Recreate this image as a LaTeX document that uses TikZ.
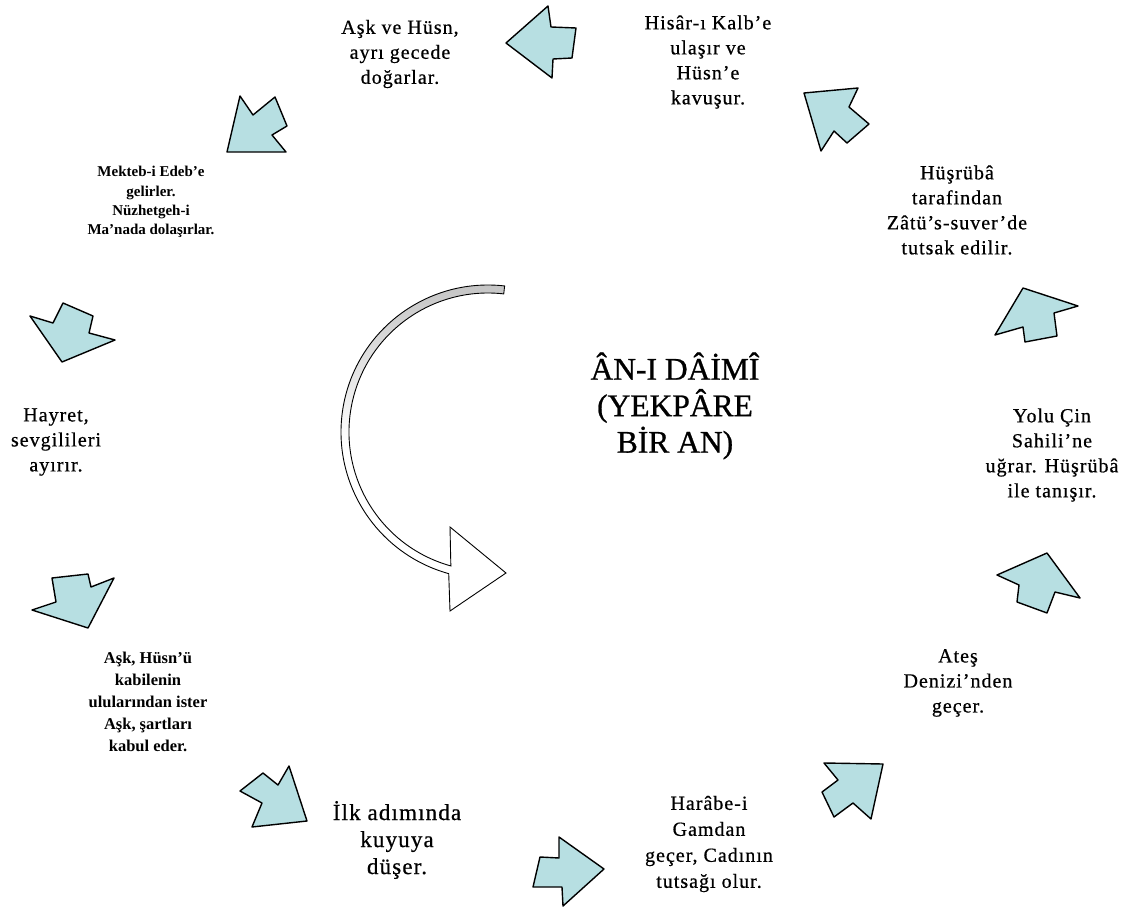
\documentclass[tikz,border=0pt]{standalone}
\usepackage{fontspec}
\setmainfont{Liberation Serif}
\newfontfamily\tnr[LetterSpace=5,FakeBold=0.6]{Liberation Serif}
\newfontfamily\tnrc[FakeBold=0.8]{Liberation Serif}
\definecolor{arrowfill}{RGB}{183,223,226}
\tikzset{
  blockarrow/.style={fill=arrowfill, draw=black, line width=1.4pt, line join=round},
  curvearrow/.style={draw=black, line width=0.9pt, top color=black!24, bottom color=white, middle color=white},
  lbl/.style={align=center, inner sep=0pt, font=\tnr\fontsize{20}{25}\selectfont},
}
\begin{document}
\begin{tikzpicture}[x=1pt,y=-1pt]
\useasboundingbox (0,0) rectangle (1133,907);
\fill[white] (0,0) rectangle (1133,907);

% block arrows
\draw[blockarrow] (506,43) -- (548,6) -- (551,27) -- (576,28) -- (572,58) -- (553,59) -- (552,78) -- cycle;
\draw[blockarrow] (240,96) -- (253,115) -- (275,97) -- (287,126) -- (272,135) -- (286,152) -- (227,152) -- cycle;
\draw[blockarrow] (30,316) -- (53,323) -- (63,303) -- (93,316) -- (89,333) -- (115,340) -- (62,362) -- cycle;
\draw[blockarrow] (32,610) -- (56,602) -- (52,578) -- (88,574) -- (91,587) -- (114,578) -- (88,628) -- cycle;
\draw[blockarrow] (240,791) -- (263,773) -- (278,785) -- (289,766) -- (307,821) -- (252,827) -- (262,803) -- cycle;
\draw[blockarrow] (559,837) -- (604,869) -- (563,906) -- (562,887) -- (533,887) -- (540,857) -- (559,858) -- cycle;
\draw[blockarrow] (824,763) -- (883,764) -- (871,819) -- (853,803) -- (834,817) -- (822,792) -- (838,780) -- cycle;
\draw[blockarrow] (997,575) -- (1047,553) -- (1080,598) -- (1055,592) -- (1047,613) -- (1017,602) -- (1019,585) -- cycle;
\draw[blockarrow] (995,335) -- (1023,288) -- (1078,306) -- (1054,313) -- (1057,336) -- (1025,342) -- (1023,327) -- cycle;
\draw[blockarrow] (804,93) -- (858,88) -- (849,107) -- (869,124) -- (847,143) -- (834,131) -- (821,151) -- cycle;

% curved arrow
\coordinate (ac) at (488,432);
\draw[curvearrow] ([shift={(-83.5:147)}]ac) arc[start angle=-83.5, end angle=-254.5, radius=147]
  -- (450,611) -- (506,573) -- (450,527) -- ([shift={(105.5:139)}]ac)
  arc[start angle=105.5, end angle=276.5, radius=139] -- cycle;

% labels
\node[lbl] (t1) at (400,54) {Aşk ve Hüsn,\\ayrı gecede\\doğarlar.};
\node[lbl] (t2) at (708,62) {Hisâr-ı Kalb’e\\ulaşır ve\\Hüsn’e\\kavuşur.};
\node[lbl] (t3) at (957,210) {Hüşrübâ\\tarafindan\\Zâtü’s-suver’de\\tutsak edilir.};
\node[lbl] (t4) at (1052,455) {Yolu Çin\\Sahili’ne\\uğrar. Hüşrübâ\\ile tanışır.};
\node[lbl] (t5) at (958,683) {Ateş\\Denizi’nden\\geçer.};
\node[lbl, font=\tnr\fontsize{20}{26}\selectfont] (t6) at (709,844) {Harâbe-i\\Gamdan\\geçer, Cadının\\tutsağı olur.};
\node[lbl, font=\tnr\fontsize{23}{27}\selectfont] (t7) at (397,840) {İlk adımında\\kuyuya\\düşer.};
\node[lbl, font=\bfseries\fontsize{16.5}{22}\selectfont] (t8) at (148,702) {Aşk, Hüsn’ü\\kabilenin\\ulularından ister\\Aşk, şartları\\kabul eder.};
\node[lbl, font=\bfseries\fontsize{15}{19.3}\selectfont] (t9) at (151,202) {Mekteb-i Edeb’e\\gelirler.\\Nüzhetgeh-i\\Ma’nada dolaşırlar.};
\node[lbl] (t10) at (56,442) {Hayret,\\sevgilileri\\ayırır.};
\node[lbl, font=\tnrc\fontsize{31.5}{36.5}\selectfont] (tc) at (675,406) {ÂN-I DÂİMÎ\\(YEKPÂRE\\BİR AN)};
\end{tikzpicture}
\end{document}
